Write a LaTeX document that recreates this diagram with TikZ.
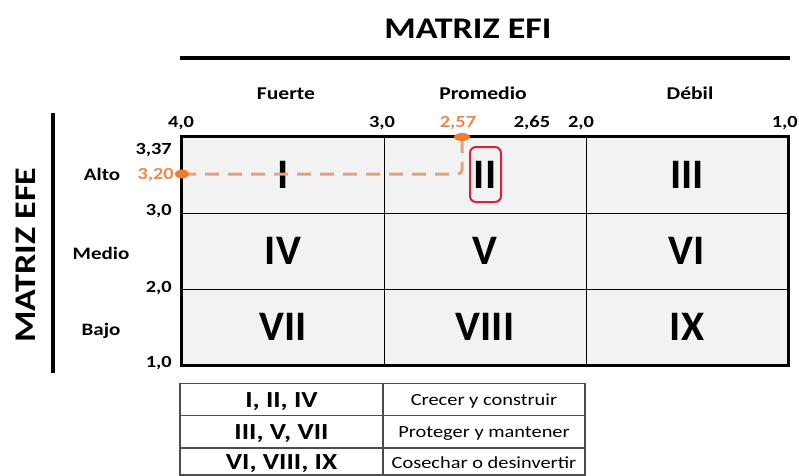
\documentclass[tikz,border=0pt]{standalone}
\usepackage{fontspec}
\setmainfont{Carlito}
\newfontfamily\widefont{Carlito}[FakeStretch=1.2]
\definecolor{cellgray}{HTML}{F2F2F2}
\definecolor{efiorange}{HTML}{E88A4E}
\definecolor{dotorange}{HTML}{EE7D2F}
\definecolor{traceorange}{HTML}{E0A47C}
\definecolor{boxred}{HTML}{D9223A}
\tikzset{
  heading/.style={font=\widefont\bfseries\fontsize{30}{30}\selectfont,text height=19pt,text depth=0pt,inner sep=0pt},
  barline/.style={line width=4pt},
  axislab/.style={font=\widefont\bfseries\fontsize{18}{18}\selectfont,text height=11.5pt,text depth=0pt,inner sep=0pt},
  rowlab/.style={font=\widefont\bfseries\fontsize{17.5}{17.5}\selectfont,text height=11.3pt,text depth=0pt,inner sep=0pt},
  tickl/.style={font=\widefont\bfseries\fontsize{17}{17}\selectfont,text height=11pt,text depth=0pt,inner sep=0pt},
  hot/.style={text=efiorange},
  cell/.style={draw,line width=1pt,fill=cellgray,minimum width=202pt,minimum height=76pt,inner sep=0pt,
    font=\bfseries\fontsize{42}{42}\selectfont,text height=27pt,text depth=0pt},
  keycell/.style={draw=black!70,line width=1.2pt,minimum width=203pt,minimum height=32.5pt,inner sep=0pt,
    font=\widefont\bfseries\fontsize{23}{23}\selectfont,text height=15pt,text depth=0pt},
  actcell/.style={draw=black!70,line width=1.2pt,minimum width=202pt,minimum height=32.5pt,inner sep=0pt,
    font=\widefont\fontsize{17}{17}\selectfont,text height=11pt,text depth=0pt},
  lastrow/.style={minimum height=27pt},
  trace/.style={draw=traceorange,line width=3pt,dash pattern=on 14pt off 9pt,rounded corners=4pt},
  selbox/.style={draw=boxred,line width=2pt,rounded corners=6pt,minimum width=31pt,minimum height=55pt,inner sep=0pt},
  dot/.style={fill=dotorange}
}
\begin{document}
\begin{tikzpicture}[x=1pt,y=-1pt]
  \useasboundingbox (0,0) rectangle (799,475);

  % MATRIZ EFI
  \node[heading] (efi) at (468,29) {MATRIZ EFI};
  \coordinate (efiL) at (180,58);
  \coordinate (efiR) at (790,58);
  \draw[barline] (efiL) -- (efiR);
  \node[axislab] (fuerte) at (286,94) {Fuerte};
  \node[axislab] (promedio) at (483,94) {Promedio};
  \node[axislab] (debil) at (690,94) {Débil};
  \node[tickl] (x40) at (181,122) {4,0};
  \node[tickl] (x30) at (382,122) {3,0};
  \node[tickl,hot] (x257) at (458,122) {2,57};
  \node[tickl] (x265) at (532,122) {2,65};
  \node[tickl] (x20) at (581,122) {2,0};
  \node[tickl,anchor=east] (x10) at (798,122) {1,0};

  % MATRIZ EFE
  \node[heading,rotate=90] (efe) at (26,255) {MATRIZ EFE};
  \coordinate (efeT) at (53,113);
  \coordinate (efeB) at (53,373);
  \draw[barline] (efeT) -- (efeB);
  \node[rowlab] (alto) at (102,175) {Alto};
  \node[rowlab] (medio) at (101,254) {Medio};
  \node[rowlab] (bajo) at (101,330) {Bajo};
  \node[tickl,anchor=east] (y337) at (172,149) {3,37};
  \node[tickl,anchor=east,hot] (y320) at (174,174) {3,20};
  \node[tickl,anchor=east] (y30) at (172,210) {3,0};
  \node[tickl,anchor=east] (y20) at (172,287) {2,0};
  \node[tickl,anchor=east] (y10) at (172,362) {1,0};

  % cuadrantes
  \foreach \lab/\x/\y [count=\i] in {I/283/175,II/485/175,III/687/175,
      IV/283/251,V/485/251,VI/687/251,VII/283/327,VIII/485/327,IX/687/327}
    \node[cell] (c\i) at (\x,\y) {\lab};
  \draw[line width=3pt] (c1.north west) rectangle (c9.south east);

  % posicion
  \coordinate (pefe) at (182,174);
  \coordinate (pefi) at (462,137);
  \draw[trace] (pefe) -| (pefi);
  \fill[dot] (pefe) ellipse (7pt and 4.5pt);
  \fill[dot] (pefi) ellipse (8pt and 4pt);
  \node[selbox] (sel) at (485.5,174.5) {};

  % estrategias
  \node[keycell] (k1) at (281.5,399.5) {I, II, IV};
  \node[keycell] (k2) at (281.5,432) {III, V, VII};
  \node[keycell,lastrow,text height=16pt] (k3) at (281.5,461.5) {VI, VIII, IX};
  \node[actcell] (a1) at (484,399.5) {Crecer y construir};
  \node[actcell] (a2) at (484,432) {Proteger y mantener};
  \node[actcell,lastrow,text height=13pt] (a3) at (484,461.5) {Cosechar o desinvertir};
\end{tikzpicture}
\end{document}
